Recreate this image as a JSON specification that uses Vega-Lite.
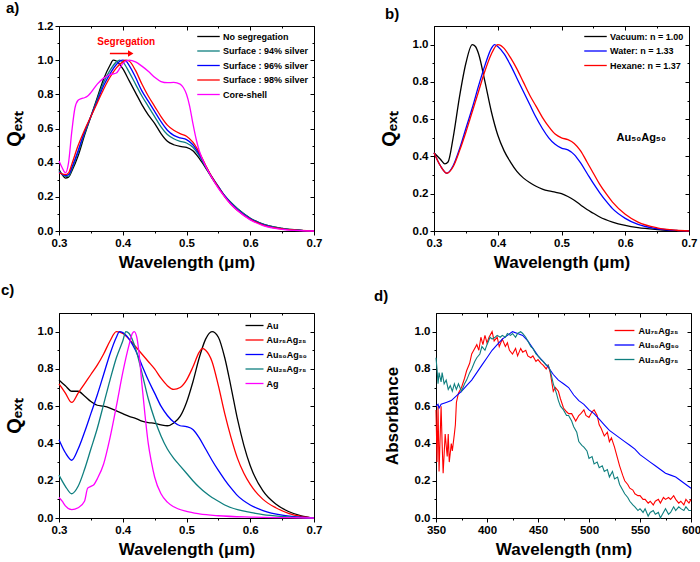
{
"$schema":"https://vega.github.io/schema/vega-lite/v6.json",
"background":"white",
"padding":{"left":0,"top":0,"right":5,"bottom":0},
"config":{
 "view":{"stroke":"#000","strokeWidth":1},
 "font":"Liberation Sans",
 "axis":{"grid":false,"domainColor":"#000","tickColor":"#000","tickSize":4,"labelFont":"Liberation Sans","labelFontWeight":"bold","labelFontSize":11.5,"labelColor":"#000","titleFont":"Liberation Sans","titleFontWeight":"bold","titleColor":"#000","titleFontSize":17,"labelPadding":2,"labelOverlap":false,"labelFlush":false},
 "axisY":{"titleFontSize":20,"titlePadding":13},
 "axisX":{"titlePadding":6},
 "legend":{"orient":"top-right","offset":4,"padding":2,"symbolStrokeWidth":1.5,"labelFont":"Liberation Sans","labelFontWeight":"bold","labelFontSize":9,"labelColor":"#000","rowPadding":3.5,"labelLimit":250},
 "title":{"font":"Liberation Sans","fontWeight":"bold","fontSize":15,"anchor":"start","frame":"bounds","color":"#000","offset":4},
 "line":{"strokeWidth":1.3}
},
"resolve":{"scale":{"color":"independent"},"legend":{"color":"independent"}},
"spacing":11,
"vconcat":[
{"hconcat":[
{"width":255,"height":205,"title":{"text":"a)","dx":2},
 "data":{"values":[
{"s":"No segregation","x":0.30,"y":0.36},{"s":"No segregation","x":0.305,"y":0.33},{"s":"No segregation","x":0.31,"y":0.31},{"s":"No segregation","x":0.315,"y":0.315},{"s":"No segregation","x":0.32,"y":0.35},{"s":"No segregation","x":0.33,"y":0.44},{"s":"No segregation","x":0.34,"y":0.56},{"s":"No segregation","x":0.35,"y":0.67},{"s":"No segregation","x":0.36,"y":0.78},{"s":"No segregation","x":0.37,"y":0.89},{"s":"No segregation","x":0.38,"y":0.97},{"s":"No segregation","x":0.385,"y":1.0},{"s":"No segregation","x":0.39,"y":0.995},{"s":"No segregation","x":0.40,"y":0.95},{"s":"No segregation","x":0.41,"y":0.88},{"s":"No segregation","x":0.42,"y":0.81},{"s":"No segregation","x":0.43,"y":0.74},{"s":"No segregation","x":0.44,"y":0.68},{"s":"No segregation","x":0.45,"y":0.63},{"s":"No segregation","x":0.46,"y":0.57},{"s":"No segregation","x":0.47,"y":0.525},{"s":"No segregation","x":0.48,"y":0.505},{"s":"No segregation","x":0.49,"y":0.495},{"s":"No segregation","x":0.50,"y":0.49},{"s":"No segregation","x":0.51,"y":0.47},{"s":"No segregation","x":0.52,"y":0.425},{"s":"No segregation","x":0.53,"y":0.37},{"s":"No segregation","x":0.54,"y":0.31},{"s":"No segregation","x":0.55,"y":0.255},{"s":"No segregation","x":0.56,"y":0.205},{"s":"No segregation","x":0.57,"y":0.165},{"s":"No segregation","x":0.58,"y":0.13},{"s":"No segregation","x":0.60,"y":0.075},{"s":"No segregation","x":0.62,"y":0.04},{"s":"No segregation","x":0.65,"y":0.015},{"s":"No segregation","x":0.68,"y":0.004},{"s":"No segregation","x":0.70,"y":0.0},
{"s":"Surface : 94% silver","x":0.30,"y":0.35},{"s":"Surface : 94% silver","x":0.31,"y":0.32},{"s":"Surface : 94% silver","x":0.315,"y":0.32},{"s":"Surface : 94% silver","x":0.32,"y":0.36},{"s":"Surface : 94% silver","x":0.33,"y":0.46},{"s":"Surface : 94% silver","x":0.34,"y":0.57},{"s":"Surface : 94% silver","x":0.35,"y":0.67},{"s":"Surface : 94% silver","x":0.36,"y":0.77},{"s":"Surface : 94% silver","x":0.37,"y":0.87},{"s":"Surface : 94% silver","x":0.38,"y":0.94},{"s":"Surface : 94% silver","x":0.39,"y":0.99},{"s":"Surface : 94% silver","x":0.395,"y":1.0},{"s":"Surface : 94% silver","x":0.40,"y":0.99},{"s":"Surface : 94% silver","x":0.41,"y":0.93},{"s":"Surface : 94% silver","x":0.42,"y":0.86},{"s":"Surface : 94% silver","x":0.43,"y":0.79},{"s":"Surface : 94% silver","x":0.44,"y":0.73},{"s":"Surface : 94% silver","x":0.45,"y":0.67},{"s":"Surface : 94% silver","x":0.46,"y":0.61},{"s":"Surface : 94% silver","x":0.47,"y":0.565},{"s":"Surface : 94% silver","x":0.48,"y":0.54},{"s":"Surface : 94% silver","x":0.49,"y":0.525},{"s":"Surface : 94% silver","x":0.50,"y":0.515},{"s":"Surface : 94% silver","x":0.51,"y":0.49},{"s":"Surface : 94% silver","x":0.52,"y":0.44},{"s":"Surface : 94% silver","x":0.53,"y":0.375},{"s":"Surface : 94% silver","x":0.54,"y":0.315},{"s":"Surface : 94% silver","x":0.55,"y":0.26},{"s":"Surface : 94% silver","x":0.56,"y":0.205},{"s":"Surface : 94% silver","x":0.57,"y":0.165},{"s":"Surface : 94% silver","x":0.58,"y":0.13},{"s":"Surface : 94% silver","x":0.60,"y":0.075},{"s":"Surface : 94% silver","x":0.62,"y":0.04},{"s":"Surface : 94% silver","x":0.65,"y":0.015},{"s":"Surface : 94% silver","x":0.68,"y":0.004},{"s":"Surface : 94% silver","x":0.70,"y":0.0},
{"s":"Surface : 96% silver","x":0.30,"y":0.345},{"s":"Surface : 96% silver","x":0.31,"y":0.325},{"s":"Surface : 96% silver","x":0.315,"y":0.33},{"s":"Surface : 96% silver","x":0.32,"y":0.37},{"s":"Surface : 96% silver","x":0.33,"y":0.47},{"s":"Surface : 96% silver","x":0.34,"y":0.58},{"s":"Surface : 96% silver","x":0.35,"y":0.67},{"s":"Surface : 96% silver","x":0.36,"y":0.76},{"s":"Surface : 96% silver","x":0.37,"y":0.85},{"s":"Surface : 96% silver","x":0.38,"y":0.92},{"s":"Surface : 96% silver","x":0.39,"y":0.975},{"s":"Surface : 96% silver","x":0.40,"y":1.0},{"s":"Surface : 96% silver","x":0.405,"y":0.995},{"s":"Surface : 96% silver","x":0.41,"y":0.97},{"s":"Surface : 96% silver","x":0.42,"y":0.9},{"s":"Surface : 96% silver","x":0.43,"y":0.82},{"s":"Surface : 96% silver","x":0.44,"y":0.76},{"s":"Surface : 96% silver","x":0.45,"y":0.70},{"s":"Surface : 96% silver","x":0.46,"y":0.64},{"s":"Surface : 96% silver","x":0.47,"y":0.59},{"s":"Surface : 96% silver","x":0.48,"y":0.56},{"s":"Surface : 96% silver","x":0.49,"y":0.545},{"s":"Surface : 96% silver","x":0.50,"y":0.535},{"s":"Surface : 96% silver","x":0.51,"y":0.505},{"s":"Surface : 96% silver","x":0.52,"y":0.45},{"s":"Surface : 96% silver","x":0.53,"y":0.38},{"s":"Surface : 96% silver","x":0.54,"y":0.315},{"s":"Surface : 96% silver","x":0.55,"y":0.26},{"s":"Surface : 96% silver","x":0.56,"y":0.205},{"s":"Surface : 96% silver","x":0.57,"y":0.16},{"s":"Surface : 96% silver","x":0.58,"y":0.125},{"s":"Surface : 96% silver","x":0.60,"y":0.072},{"s":"Surface : 96% silver","x":0.62,"y":0.038},{"s":"Surface : 96% silver","x":0.65,"y":0.013},{"s":"Surface : 96% silver","x":0.68,"y":0.003},{"s":"Surface : 96% silver","x":0.70,"y":0.0},
{"s":"Surface : 98% silver","x":0.30,"y":0.34},{"s":"Surface : 98% silver","x":0.31,"y":0.33},{"s":"Surface : 98% silver","x":0.315,"y":0.34},{"s":"Surface : 98% silver","x":0.32,"y":0.39},{"s":"Surface : 98% silver","x":0.33,"y":0.50},{"s":"Surface : 98% silver","x":0.34,"y":0.59},{"s":"Surface : 98% silver","x":0.35,"y":0.67},{"s":"Surface : 98% silver","x":0.36,"y":0.75},{"s":"Surface : 98% silver","x":0.37,"y":0.83},{"s":"Surface : 98% silver","x":0.38,"y":0.9},{"s":"Surface : 98% silver","x":0.39,"y":0.955},{"s":"Surface : 98% silver","x":0.40,"y":0.99},{"s":"Surface : 98% silver","x":0.405,"y":1.0},{"s":"Surface : 98% silver","x":0.41,"y":0.995},{"s":"Surface : 98% silver","x":0.42,"y":0.94},{"s":"Surface : 98% silver","x":0.43,"y":0.86},{"s":"Surface : 98% silver","x":0.44,"y":0.79},{"s":"Surface : 98% silver","x":0.45,"y":0.73},{"s":"Surface : 98% silver","x":0.46,"y":0.67},{"s":"Surface : 98% silver","x":0.47,"y":0.62},{"s":"Surface : 98% silver","x":0.48,"y":0.59},{"s":"Surface : 98% silver","x":0.49,"y":0.57},{"s":"Surface : 98% silver","x":0.50,"y":0.555},{"s":"Surface : 98% silver","x":0.51,"y":0.52},{"s":"Surface : 98% silver","x":0.52,"y":0.46},{"s":"Surface : 98% silver","x":0.53,"y":0.385},{"s":"Surface : 98% silver","x":0.54,"y":0.315},{"s":"Surface : 98% silver","x":0.55,"y":0.255},{"s":"Surface : 98% silver","x":0.56,"y":0.2},{"s":"Surface : 98% silver","x":0.57,"y":0.155},{"s":"Surface : 98% silver","x":0.58,"y":0.12},{"s":"Surface : 98% silver","x":0.60,"y":0.068},{"s":"Surface : 98% silver","x":0.62,"y":0.035},{"s":"Surface : 98% silver","x":0.65,"y":0.012},{"s":"Surface : 98% silver","x":0.68,"y":0.003},{"s":"Surface : 98% silver","x":0.70,"y":0.0},
{"s":"Core-shell","x":0.30,"y":0.41},{"s":"Core-shell","x":0.305,"y":0.37},{"s":"Core-shell","x":0.31,"y":0.34},{"s":"Core-shell","x":0.315,"y":0.4},{"s":"Core-shell","x":0.32,"y":0.58},{"s":"Core-shell","x":0.325,"y":0.72},{"s":"Core-shell","x":0.33,"y":0.765},{"s":"Core-shell","x":0.335,"y":0.775},{"s":"Core-shell","x":0.34,"y":0.78},{"s":"Core-shell","x":0.345,"y":0.79},{"s":"Core-shell","x":0.35,"y":0.81},{"s":"Core-shell","x":0.36,"y":0.86},{"s":"Core-shell","x":0.37,"y":0.895},{"s":"Core-shell","x":0.38,"y":0.915},{"s":"Core-shell","x":0.39,"y":0.925},{"s":"Core-shell","x":0.395,"y":0.95},{"s":"Core-shell","x":0.40,"y":0.98},{"s":"Core-shell","x":0.41,"y":1.0},{"s":"Core-shell","x":0.42,"y":0.99},{"s":"Core-shell","x":0.43,"y":0.965},{"s":"Core-shell","x":0.44,"y":0.935},{"s":"Core-shell","x":0.45,"y":0.9},{"s":"Core-shell","x":0.46,"y":0.875},{"s":"Core-shell","x":0.47,"y":0.868},{"s":"Core-shell","x":0.48,"y":0.87},{"s":"Core-shell","x":0.49,"y":0.86},{"s":"Core-shell","x":0.495,"y":0.84},{"s":"Core-shell","x":0.50,"y":0.8},{"s":"Core-shell","x":0.505,"y":0.73},{"s":"Core-shell","x":0.51,"y":0.63},{"s":"Core-shell","x":0.515,"y":0.54},{"s":"Core-shell","x":0.52,"y":0.47},{"s":"Core-shell","x":0.53,"y":0.38},{"s":"Core-shell","x":0.54,"y":0.31},{"s":"Core-shell","x":0.55,"y":0.25},{"s":"Core-shell","x":0.56,"y":0.2},{"s":"Core-shell","x":0.57,"y":0.155},{"s":"Core-shell","x":0.58,"y":0.12},{"s":"Core-shell","x":0.60,"y":0.065},{"s":"Core-shell","x":0.62,"y":0.032},{"s":"Core-shell","x":0.65,"y":0.01},{"s":"Core-shell","x":0.68,"y":0.002},{"s":"Core-shell","x":0.70,"y":0.0}
 ]},
 "layer":[
  {"mark":{"type":"line","interpolate":"monotone"},
   "encoding":{
    "x":{"field":"x","type":"quantitative","scale":{"domain":[0.3,0.7],"nice":false,"zero":false},"axis":{"orient":"bottom","values":[0.3,0.4,0.5,0.6,0.7],"format":".1f","title":"Wavelength (μm)"}},
    "y":{"field":"y","type":"quantitative","scale":{"domain":[0,1.2],"nice":false},"axis":{"orient":"left","values":[0,0.2,0.4,0.6,0.8,1.0,1.2],"format":".1f","title":"Qₑₓₜ"}},
    "color":{"field":"s","type":"nominal","scale":{"domain":["No segregation","Surface : 94% silver","Surface : 96% silver","Surface : 98% silver","Core-shell"],"range":["#000000","#0f7f7f","#0000ff","#ff0000","#ff00ff"]},"legend":{"title":null,"symbolType":"M-2.5,0H2.5","symbolSize":81,"labelOffset":9,"offset":3}}
   }},
  {"data":{"values":[{"x":0.3,"y":0}]},"mark":{"type":"point","opacity":0},"encoding":{"x":{"field":"x","type":"quantitative","axis":{"orient":"top","values":[0.3,0.4,0.5,0.6,0.7],"tickSize":-4,"labels":false,"domain":false,"title":null}},"y":{"field":"y","type":"quantitative","axis":{"orient":"right","values":[0,0.2,0.4,0.6,0.8,1.0,1.2],"tickSize":-4,"labels":false,"domain":false,"title":null}}}},
  {"data":{"values":[{"x":0.3,"y":0}]},"mark":{"type":"point","opacity":0},"encoding":{"x":{"field":"x","type":"quantitative","axis":{"orient":"bottom","values":[0.35,0.45,0.55,0.65],"tickSize":2,"labels":false,"domain":false,"title":null}},"y":{"field":"y","type":"quantitative","axis":{"orient":"left","values":[0.1,0.3,0.5,0.7,0.9,1.1],"tickSize":2,"labels":false,"domain":false,"title":null}}}},
  {"data":{"values":[{"x":0.3,"y":0}]},"mark":{"type":"point","opacity":0},"encoding":{"x":{"field":"x","type":"quantitative","axis":{"orient":"top","values":[0.35,0.45,0.55,0.65],"tickSize":-2,"labels":false,"domain":false,"title":null}},"y":{"field":"y","type":"quantitative","axis":{"orient":"right","values":[0.1,0.3,0.5,0.7,0.9,1.1],"tickSize":-2,"labels":false,"domain":false,"title":null}}}},
  {"data":{"values":[{"x":0.4055,"y":1.106,"t":"Segregation"}]},"mark":{"type":"text","color":"#ff0000","fontWeight":"bold","fontSize":10,"font":"Liberation Sans"},"encoding":{"x":{"field":"x","type":"quantitative","axis":null},"y":{"field":"y","type":"quantitative","axis":null},"text":{"field":"t"}}},
  {"data":{"values":[{"x":0.3798,"x2":0.41,"y":1.039}]},"mark":{"type":"rule","color":"#ff0000","strokeWidth":1.5},"encoding":{"x":{"field":"x","type":"quantitative","axis":null},"x2":{"field":"x2"},"y":{"field":"y","type":"quantitative","axis":null}}},
  {"data":{"values":[{"x":0.4125,"y":1.039}]},"mark":{"type":"point","shape":"triangle-right","filled":true,"color":"#ff0000","size":40,"opacity":1},"encoding":{"x":{"field":"x","type":"quantitative","axis":null},"y":{"field":"y","type":"quantitative","axis":null}}}
 ],
 "resolve":{"axis":{"x":"independent","y":"independent"}}},
{"width":255,"height":205,"title":{"text":"b)","dx":6},
 "data":{"values":[
{"s":"Vacuum: n = 1.00","x":0.30,"y":0.42},{"s":"Vacuum: n = 1.00","x":0.31,"y":0.385},{"s":"Vacuum: n = 1.00","x":0.317,"y":0.36},{"s":"Vacuum: n = 1.00","x":0.322,"y":0.37},{"s":"Vacuum: n = 1.00","x":0.33,"y":0.5},{"s":"Vacuum: n = 1.00","x":0.34,"y":0.72},{"s":"Vacuum: n = 1.00","x":0.35,"y":0.9},{"s":"Vacuum: n = 1.00","x":0.36,"y":1.0},{"s":"Vacuum: n = 1.00","x":0.365,"y":0.99},{"s":"Vacuum: n = 1.00","x":0.37,"y":0.95},{"s":"Vacuum: n = 1.00","x":0.38,"y":0.8},{"s":"Vacuum: n = 1.00","x":0.39,"y":0.64},{"s":"Vacuum: n = 1.00","x":0.40,"y":0.515},{"s":"Vacuum: n = 1.00","x":0.41,"y":0.43},{"s":"Vacuum: n = 1.00","x":0.42,"y":0.37},{"s":"Vacuum: n = 1.00","x":0.43,"y":0.32},{"s":"Vacuum: n = 1.00","x":0.44,"y":0.285},{"s":"Vacuum: n = 1.00","x":0.45,"y":0.26},{"s":"Vacuum: n = 1.00","x":0.46,"y":0.24},{"s":"Vacuum: n = 1.00","x":0.47,"y":0.225},{"s":"Vacuum: n = 1.00","x":0.48,"y":0.215},{"s":"Vacuum: n = 1.00","x":0.49,"y":0.208},{"s":"Vacuum: n = 1.00","x":0.50,"y":0.2},{"s":"Vacuum: n = 1.00","x":0.51,"y":0.185},{"s":"Vacuum: n = 1.00","x":0.52,"y":0.165},{"s":"Vacuum: n = 1.00","x":0.53,"y":0.14},{"s":"Vacuum: n = 1.00","x":0.54,"y":0.115},{"s":"Vacuum: n = 1.00","x":0.55,"y":0.095},{"s":"Vacuum: n = 1.00","x":0.56,"y":0.075},{"s":"Vacuum: n = 1.00","x":0.58,"y":0.048},{"s":"Vacuum: n = 1.00","x":0.60,"y":0.03},{"s":"Vacuum: n = 1.00","x":0.62,"y":0.018},{"s":"Vacuum: n = 1.00","x":0.65,"y":0.008},{"s":"Vacuum: n = 1.00","x":0.68,"y":0.002},{"s":"Vacuum: n = 1.00","x":0.70,"y":0.0},
{"s":"Water: n = 1.33","x":0.30,"y":0.42},{"s":"Water: n = 1.33","x":0.31,"y":0.35},{"s":"Water: n = 1.33","x":0.32,"y":0.31},{"s":"Water: n = 1.33","x":0.33,"y":0.35},{"s":"Water: n = 1.33","x":0.34,"y":0.44},{"s":"Water: n = 1.33","x":0.35,"y":0.55},{"s":"Water: n = 1.33","x":0.36,"y":0.66},{"s":"Water: n = 1.33","x":0.37,"y":0.78},{"s":"Water: n = 1.33","x":0.38,"y":0.89},{"s":"Water: n = 1.33","x":0.39,"y":0.98},{"s":"Water: n = 1.33","x":0.395,"y":1.0},{"s":"Water: n = 1.33","x":0.40,"y":0.99},{"s":"Water: n = 1.33","x":0.41,"y":0.95},{"s":"Water: n = 1.33","x":0.42,"y":0.89},{"s":"Water: n = 1.33","x":0.43,"y":0.82},{"s":"Water: n = 1.33","x":0.44,"y":0.75},{"s":"Water: n = 1.33","x":0.45,"y":0.68},{"s":"Water: n = 1.33","x":0.46,"y":0.61},{"s":"Water: n = 1.33","x":0.47,"y":0.55},{"s":"Water: n = 1.33","x":0.48,"y":0.5},{"s":"Water: n = 1.33","x":0.49,"y":0.465},{"s":"Water: n = 1.33","x":0.50,"y":0.445},{"s":"Water: n = 1.33","x":0.51,"y":0.435},{"s":"Water: n = 1.33","x":0.52,"y":0.41},{"s":"Water: n = 1.33","x":0.53,"y":0.365},{"s":"Water: n = 1.33","x":0.54,"y":0.31},{"s":"Water: n = 1.33","x":0.55,"y":0.255},{"s":"Water: n = 1.33","x":0.56,"y":0.205},{"s":"Water: n = 1.33","x":0.57,"y":0.16},{"s":"Water: n = 1.33","x":0.58,"y":0.12},{"s":"Water: n = 1.33","x":0.60,"y":0.068},{"s":"Water: n = 1.33","x":0.62,"y":0.035},{"s":"Water: n = 1.33","x":0.65,"y":0.012},{"s":"Water: n = 1.33","x":0.68,"y":0.003},{"s":"Water: n = 1.33","x":0.70,"y":0.0},
{"s":"Hexane: n = 1.37","x":0.30,"y":0.42},{"s":"Hexane: n = 1.37","x":0.31,"y":0.35},{"s":"Hexane: n = 1.37","x":0.32,"y":0.31},{"s":"Hexane: n = 1.37","x":0.33,"y":0.345},{"s":"Hexane: n = 1.37","x":0.34,"y":0.43},{"s":"Hexane: n = 1.37","x":0.35,"y":0.53},{"s":"Hexane: n = 1.37","x":0.36,"y":0.64},{"s":"Hexane: n = 1.37","x":0.37,"y":0.75},{"s":"Hexane: n = 1.37","x":0.38,"y":0.86},{"s":"Hexane: n = 1.37","x":0.39,"y":0.95},{"s":"Hexane: n = 1.37","x":0.40,"y":1.0},{"s":"Hexane: n = 1.37","x":0.405,"y":0.995},{"s":"Hexane: n = 1.37","x":0.41,"y":0.98},{"s":"Hexane: n = 1.37","x":0.42,"y":0.93},{"s":"Hexane: n = 1.37","x":0.43,"y":0.87},{"s":"Hexane: n = 1.37","x":0.44,"y":0.8},{"s":"Hexane: n = 1.37","x":0.45,"y":0.73},{"s":"Hexane: n = 1.37","x":0.46,"y":0.67},{"s":"Hexane: n = 1.37","x":0.47,"y":0.61},{"s":"Hexane: n = 1.37","x":0.48,"y":0.56},{"s":"Hexane: n = 1.37","x":0.49,"y":0.52},{"s":"Hexane: n = 1.37","x":0.50,"y":0.5},{"s":"Hexane: n = 1.37","x":0.51,"y":0.49},{"s":"Hexane: n = 1.37","x":0.52,"y":0.47},{"s":"Hexane: n = 1.37","x":0.53,"y":0.43},{"s":"Hexane: n = 1.37","x":0.54,"y":0.37},{"s":"Hexane: n = 1.37","x":0.55,"y":0.31},{"s":"Hexane: n = 1.37","x":0.56,"y":0.25},{"s":"Hexane: n = 1.37","x":0.57,"y":0.2},{"s":"Hexane: n = 1.37","x":0.58,"y":0.155},{"s":"Hexane: n = 1.37","x":0.60,"y":0.09},{"s":"Hexane: n = 1.37","x":0.62,"y":0.048},{"s":"Hexane: n = 1.37","x":0.65,"y":0.017},{"s":"Hexane: n = 1.37","x":0.68,"y":0.004},{"s":"Hexane: n = 1.37","x":0.70,"y":0.0}
 ]},
 "layer":[
  {"mark":{"type":"line","interpolate":"monotone"},
   "encoding":{
    "x":{"field":"x","type":"quantitative","scale":{"domain":[0.3,0.7],"nice":false,"zero":false},"axis":{"orient":"bottom","values":[0.3,0.4,0.5,0.6,0.7],"format":".1f","title":"Wavelength (μm)"}},
    "y":{"field":"y","type":"quantitative","scale":{"domain":[0,1.1],"nice":false},"axis":{"orient":"left","values":[0,0.2,0.4,0.6,0.8,1.0],"format":".1f","title":"Qₑₓₜ"}},
    "color":{"field":"s","type":"nominal","scale":{"domain":["Vacuum: n = 1.00","Water: n = 1.33","Hexane: n = 1.37"],"range":["#000000","#0000ff","#ff0000"]},"legend":{"title":null,"symbolType":"M-2.5,0H2.5","symbolSize":81,"labelOffset":9,"offset":3}}
   }},
  {"data":{"values":[{"x":0.3,"y":0}]},"mark":{"type":"point","opacity":0},"encoding":{"x":{"field":"x","type":"quantitative","axis":{"orient":"top","values":[0.3,0.4,0.5,0.6,0.7],"tickSize":-4,"labels":false,"domain":false,"title":null}},"y":{"field":"y","type":"quantitative","axis":{"orient":"right","values":[0,0.2,0.4,0.6,0.8,1.0],"tickSize":-4,"labels":false,"domain":false,"title":null}}}},
  {"data":{"values":[{"x":0.3,"y":0}]},"mark":{"type":"point","opacity":0},"encoding":{"x":{"field":"x","type":"quantitative","axis":{"orient":"bottom","values":[0.35,0.45,0.55,0.65],"tickSize":2,"labels":false,"domain":false,"title":null}},"y":{"field":"y","type":"quantitative","axis":{"orient":"left","values":[0.1,0.3,0.5,0.7,0.9],"tickSize":2,"labels":false,"domain":false,"title":null}}}},
  {"data":{"values":[{"x":0.3,"y":0}]},"mark":{"type":"point","opacity":0},"encoding":{"x":{"field":"x","type":"quantitative","axis":{"orient":"top","values":[0.35,0.45,0.55,0.65],"tickSize":-2,"labels":false,"domain":false,"title":null}},"y":{"field":"y","type":"quantitative","axis":{"orient":"right","values":[0.1,0.3,0.5,0.7,0.9],"tickSize":-2,"labels":false,"domain":false,"title":null}}}},
  {"data":{"values":[{"x":0.625,"y":0.5,"t":"Au₅₀Ag₅₀"}]},"mark":{"type":"text","color":"#000","fontWeight":"bold","fontSize":11,"font":"Liberation Sans"},"encoding":{"x":{"field":"x","type":"quantitative","axis":null},"y":{"field":"y","type":"quantitative","axis":null},"text":{"field":"t"}}}
 ],
 "resolve":{"axis":{"x":"independent","y":"independent"}}}
],"spacing":55,"resolve":{"scale":{"color":"independent"},"legend":{"color":"independent"}}},
{"hconcat":[
{"width":255,"height":205,"title":{"text":"c)","dx":-3,"offset":15},
 "data":{"values":[
{"s":"Au","x":0.30,"y":0.74},{"s":"Au","x":0.31,"y":0.71},{"s":"Au","x":0.32,"y":0.68},{"s":"Au","x":0.33,"y":0.68},{"s":"Au","x":0.34,"y":0.655},{"s":"Au","x":0.35,"y":0.625},{"s":"Au","x":0.36,"y":0.605},{"s":"Au","x":0.37,"y":0.6},{"s":"Au","x":0.38,"y":0.59},{"s":"Au","x":0.39,"y":0.575},{"s":"Au","x":0.40,"y":0.56},{"s":"Au","x":0.41,"y":0.545},{"s":"Au","x":0.42,"y":0.535},{"s":"Au","x":0.43,"y":0.52},{"s":"Au","x":0.44,"y":0.512},{"s":"Au","x":0.45,"y":0.508},{"s":"Au","x":0.46,"y":0.5},{"s":"Au","x":0.47,"y":0.495},{"s":"Au","x":0.48,"y":0.51},{"s":"Au","x":0.49,"y":0.545},{"s":"Au","x":0.50,"y":0.62},{"s":"Au","x":0.51,"y":0.73},{"s":"Au","x":0.52,"y":0.86},{"s":"Au","x":0.53,"y":0.96},{"s":"Au","x":0.54,"y":1.0},{"s":"Au","x":0.55,"y":0.97},{"s":"Au","x":0.56,"y":0.86},{"s":"Au","x":0.57,"y":0.7},{"s":"Au","x":0.58,"y":0.53},{"s":"Au","x":0.59,"y":0.39},{"s":"Au","x":0.60,"y":0.28},{"s":"Au","x":0.62,"y":0.145},{"s":"Au","x":0.64,"y":0.075},{"s":"Au","x":0.66,"y":0.035},{"s":"Au","x":0.68,"y":0.012},{"s":"Au","x":0.70,"y":0.0},
{"s":"Au₇₅Ag₂₅","x":0.30,"y":0.72},{"s":"Au₇₅Ag₂₅","x":0.31,"y":0.67},{"s":"Au₇₅Ag₂₅","x":0.32,"y":0.62},{"s":"Au₇₅Ag₂₅","x":0.33,"y":0.67},{"s":"Au₇₅Ag₂₅","x":0.34,"y":0.72},{"s":"Au₇₅Ag₂₅","x":0.35,"y":0.77},{"s":"Au₇₅Ag₂₅","x":0.36,"y":0.82},{"s":"Au₇₅Ag₂₅","x":0.37,"y":0.88},{"s":"Au₇₅Ag₂₅","x":0.38,"y":0.95},{"s":"Au₇₅Ag₂₅","x":0.39,"y":1.0},{"s":"Au₇₅Ag₂₅","x":0.40,"y":0.99},{"s":"Au₇₅Ag₂₅","x":0.41,"y":0.96},{"s":"Au₇₅Ag₂₅","x":0.42,"y":0.92},{"s":"Au₇₅Ag₂₅","x":0.43,"y":0.88},{"s":"Au₇₅Ag₂₅","x":0.44,"y":0.84},{"s":"Au₇₅Ag₂₅","x":0.45,"y":0.8},{"s":"Au₇₅Ag₂₅","x":0.46,"y":0.75},{"s":"Au₇₅Ag₂₅","x":0.47,"y":0.71},{"s":"Au₇₅Ag₂₅","x":0.48,"y":0.69},{"s":"Au₇₅Ag₂₅","x":0.49,"y":0.7},{"s":"Au₇₅Ag₂₅","x":0.50,"y":0.74},{"s":"Au₇₅Ag₂₅","x":0.51,"y":0.81},{"s":"Au₇₅Ag₂₅","x":0.52,"y":0.89},{"s":"Au₇₅Ag₂₅","x":0.525,"y":0.91},{"s":"Au₇₅Ag₂₅","x":0.53,"y":0.9},{"s":"Au₇₅Ag₂₅","x":0.54,"y":0.84},{"s":"Au₇₅Ag₂₅","x":0.55,"y":0.71},{"s":"Au₇₅Ag₂₅","x":0.56,"y":0.56},{"s":"Au₇₅Ag₂₅","x":0.57,"y":0.43},{"s":"Au₇₅Ag₂₅","x":0.58,"y":0.32},{"s":"Au₇₅Ag₂₅","x":0.59,"y":0.24},{"s":"Au₇₅Ag₂₅","x":0.60,"y":0.18},{"s":"Au₇₅Ag₂₅","x":0.62,"y":0.1},{"s":"Au₇₅Ag₂₅","x":0.64,"y":0.055},{"s":"Au₇₅Ag₂₅","x":0.66,"y":0.025},{"s":"Au₇₅Ag₂₅","x":0.68,"y":0.008},{"s":"Au₇₅Ag₂₅","x":0.70,"y":0.0},
{"s":"Au₅₀Ag₅₀","x":0.30,"y":0.42},{"s":"Au₅₀Ag₅₀","x":0.31,"y":0.35},{"s":"Au₅₀Ag₅₀","x":0.32,"y":0.31},{"s":"Au₅₀Ag₅₀","x":0.33,"y":0.37},{"s":"Au₅₀Ag₅₀","x":0.34,"y":0.46},{"s":"Au₅₀Ag₅₀","x":0.35,"y":0.56},{"s":"Au₅₀Ag₅₀","x":0.36,"y":0.66},{"s":"Au₅₀Ag₅₀","x":0.37,"y":0.77},{"s":"Au₅₀Ag₅₀","x":0.38,"y":0.88},{"s":"Au₅₀Ag₅₀","x":0.39,"y":0.97},{"s":"Au₅₀Ag₅₀","x":0.395,"y":1.0},{"s":"Au₅₀Ag₅₀","x":0.40,"y":0.995},{"s":"Au₅₀Ag₅₀","x":0.41,"y":0.96},{"s":"Au₅₀Ag₅₀","x":0.42,"y":0.9},{"s":"Au₅₀Ag₅₀","x":0.43,"y":0.82},{"s":"Au₅₀Ag₅₀","x":0.44,"y":0.74},{"s":"Au₅₀Ag₅₀","x":0.45,"y":0.67},{"s":"Au₅₀Ag₅₀","x":0.46,"y":0.6},{"s":"Au₅₀Ag₅₀","x":0.47,"y":0.55},{"s":"Au₅₀Ag₅₀","x":0.48,"y":0.515},{"s":"Au₅₀Ag₅₀","x":0.49,"y":0.495},{"s":"Au₅₀Ag₅₀","x":0.50,"y":0.49},{"s":"Au₅₀Ag₅₀","x":0.51,"y":0.475},{"s":"Au₅₀Ag₅₀","x":0.52,"y":0.43},{"s":"Au₅₀Ag₅₀","x":0.53,"y":0.37},{"s":"Au₅₀Ag₅₀","x":0.54,"y":0.31},{"s":"Au₅₀Ag₅₀","x":0.55,"y":0.255},{"s":"Au₅₀Ag₅₀","x":0.56,"y":0.205},{"s":"Au₅₀Ag₅₀","x":0.57,"y":0.16},{"s":"Au₅₀Ag₅₀","x":0.58,"y":0.12},{"s":"Au₅₀Ag₅₀","x":0.60,"y":0.07},{"s":"Au₅₀Ag₅₀","x":0.62,"y":0.04},{"s":"Au₅₀Ag₅₀","x":0.65,"y":0.015},{"s":"Au₅₀Ag₅₀","x":0.68,"y":0.004},{"s":"Au₅₀Ag₅₀","x":0.70,"y":0.0},
{"s":"Au₂₅Ag₇₅","x":0.30,"y":0.23},{"s":"Au₂₅Ag₇₅","x":0.31,"y":0.17},{"s":"Au₂₅Ag₇₅","x":0.32,"y":0.13},{"s":"Au₂₅Ag₇₅","x":0.33,"y":0.17},{"s":"Au₂₅Ag₇₅","x":0.34,"y":0.26},{"s":"Au₂₅Ag₇₅","x":0.35,"y":0.37},{"s":"Au₂₅Ag₇₅","x":0.36,"y":0.48},{"s":"Au₂₅Ag₇₅","x":0.37,"y":0.61},{"s":"Au₂₅Ag₇₅","x":0.38,"y":0.74},{"s":"Au₂₅Ag₇₅","x":0.39,"y":0.86},{"s":"Au₂₅Ag₇₅","x":0.40,"y":0.95},{"s":"Au₂₅Ag₇₅","x":0.405,"y":1.0},{"s":"Au₂₅Ag₇₅","x":0.41,"y":0.99},{"s":"Au₂₅Ag₇₅","x":0.42,"y":0.91},{"s":"Au₂₅Ag₇₅","x":0.43,"y":0.78},{"s":"Au₂₅Ag₇₅","x":0.44,"y":0.64},{"s":"Au₂₅Ag₇₅","x":0.45,"y":0.53},{"s":"Au₂₅Ag₇₅","x":0.46,"y":0.44},{"s":"Au₂₅Ag₇₅","x":0.47,"y":0.37},{"s":"Au₂₅Ag₇₅","x":0.48,"y":0.32},{"s":"Au₂₅Ag₇₅","x":0.49,"y":0.28},{"s":"Au₂₅Ag₇₅","x":0.50,"y":0.24},{"s":"Au₂₅Ag₇₅","x":0.51,"y":0.2},{"s":"Au₂₅Ag₇₅","x":0.52,"y":0.165},{"s":"Au₂₅Ag₇₅","x":0.53,"y":0.135},{"s":"Au₂₅Ag₇₅","x":0.54,"y":0.11},{"s":"Au₂₅Ag₇₅","x":0.55,"y":0.09},{"s":"Au₂₅Ag₇₅","x":0.56,"y":0.07},{"s":"Au₂₅Ag₇₅","x":0.58,"y":0.045},{"s":"Au₂₅Ag₇₅","x":0.60,"y":0.03},{"s":"Au₂₅Ag₇₅","x":0.62,"y":0.018},{"s":"Au₂₅Ag₇₅","x":0.65,"y":0.008},{"s":"Au₂₅Ag₇₅","x":0.68,"y":0.002},{"s":"Au₂₅Ag₇₅","x":0.70,"y":0.0},
{"s":"Ag","x":0.30,"y":0.11},{"s":"Ag","x":0.305,"y":0.09},{"s":"Ag","x":0.31,"y":0.065},{"s":"Ag","x":0.32,"y":0.045},{"s":"Ag","x":0.33,"y":0.055},{"s":"Ag","x":0.34,"y":0.09},{"s":"Ag","x":0.345,"y":0.16},{"s":"Ag","x":0.35,"y":0.17},{"s":"Ag","x":0.355,"y":0.18},{"s":"Ag","x":0.36,"y":0.21},{"s":"Ag","x":0.37,"y":0.29},{"s":"Ag","x":0.38,"y":0.43},{"s":"Ag","x":0.39,"y":0.6},{"s":"Ag","x":0.40,"y":0.78},{"s":"Ag","x":0.41,"y":0.93},{"s":"Ag","x":0.415,"y":0.99},{"s":"Ag","x":0.418,"y":1.0},{"s":"Ag","x":0.422,"y":0.97},{"s":"Ag","x":0.425,"y":0.9},{"s":"Ag","x":0.43,"y":0.72},{"s":"Ag","x":0.435,"y":0.55},{"s":"Ag","x":0.44,"y":0.4},{"s":"Ag","x":0.445,"y":0.3},{"s":"Ag","x":0.45,"y":0.22},{"s":"Ag","x":0.46,"y":0.13},{"s":"Ag","x":0.47,"y":0.085},{"s":"Ag","x":0.48,"y":0.06},{"s":"Ag","x":0.50,"y":0.035},{"s":"Ag","x":0.52,"y":0.022},{"s":"Ag","x":0.55,"y":0.012},{"s":"Ag","x":0.60,"y":0.005},{"s":"Ag","x":0.65,"y":0.002},{"s":"Ag","x":0.70,"y":0.0}
 ]},
 "layer":[
  {"mark":{"type":"line","interpolate":"monotone"},
   "encoding":{
    "x":{"field":"x","type":"quantitative","scale":{"domain":[0.3,0.7],"nice":false,"zero":false},"axis":{"orient":"bottom","values":[0.3,0.4,0.5,0.6,0.7],"format":".1f","title":"Wavelength (μm)"}},
    "y":{"field":"y","type":"quantitative","scale":{"domain":[0,1.1],"nice":false},"axis":{"orient":"left","values":[0,0.2,0.4,0.6,0.8,1.0],"format":".1f","title":"Qₑₓₜ"}},
    "color":{"field":"s","type":"nominal","scale":{"domain":["Au","Au₇₅Ag₂₅","Au₅₀Ag₅₀","Au₂₅Ag₇₅","Ag"],"range":["#000000","#ff0000","#0000ff","#0f7f7f","#ff00ff"]},"legend":{"title":null,"symbolType":"M-2,0H2","symbolSize":81,"labelOffset":6.5,"offset":5}}
   }},
  {"data":{"values":[{"x":0.3,"y":0}]},"mark":{"type":"point","opacity":0},"encoding":{"x":{"field":"x","type":"quantitative","axis":{"orient":"top","values":[0.3,0.4,0.5,0.6,0.7],"tickSize":-4,"labels":false,"domain":false,"title":null}},"y":{"field":"y","type":"quantitative","axis":{"orient":"right","values":[0,0.2,0.4,0.6,0.8,1.0],"tickSize":-4,"labels":false,"domain":false,"title":null}}}},
  {"data":{"values":[{"x":0.3,"y":0}]},"mark":{"type":"point","opacity":0},"encoding":{"x":{"field":"x","type":"quantitative","axis":{"orient":"bottom","values":[0.35,0.45,0.55,0.65],"tickSize":2,"labels":false,"domain":false,"title":null}},"y":{"field":"y","type":"quantitative","axis":{"orient":"left","values":[0.1,0.3,0.5,0.7,0.9],"tickSize":2,"labels":false,"domain":false,"title":null}}}},
  {"data":{"values":[{"x":0.3,"y":0}]},"mark":{"type":"point","opacity":0},"encoding":{"x":{"field":"x","type":"quantitative","axis":{"orient":"top","values":[0.35,0.45,0.55,0.65],"tickSize":-2,"labels":false,"domain":false,"title":null}},"y":{"field":"y","type":"quantitative","axis":{"orient":"right","values":[0.1,0.3,0.5,0.7,0.9],"tickSize":-2,"labels":false,"domain":false,"title":null}}}}
 ],
 "resolve":{"axis":{"x":"independent","y":"independent"}}},
{"width":255,"height":205,"title":{"text":"d)","dx":-9,"offset":9},
 "data":{"values":[
{"s":"Au₇₅Ag₂₅","x":350,"y":0.58},{"s":"Au₇₅Ag₂₅","x":351,"y":0.3},{"s":"Au₇₅Ag₂₅","x":352,"y":0.6},{"s":"Au₇₅Ag₂₅","x":353,"y":0.25},{"s":"Au₇₅Ag₂₅","x":355,"y":0.6},{"s":"Au₇₅Ag₂₅","x":356,"y":0.4},{"s":"Au₇₅Ag₂₅","x":357,"y":0.24},{"s":"Au₇₅Ag₂₅","x":359,"y":0.45},{"s":"Au₇₅Ag₂₅","x":361,"y":0.33},{"s":"Au₇₅Ag₂₅","x":362,"y":0.45},{"s":"Au₇₅Ag₂₅","x":363,"y":0.3},{"s":"Au₇₅Ag₂₅","x":365,"y":0.4},{"s":"Au₇₅Ag₂₅","x":366,"y":0.36},{"s":"Au₇₅Ag₂₅","x":368,"y":0.45},{"s":"Au₇₅Ag₂₅","x":369,"y":0.5},{"s":"Au₇₅Ag₂₅","x":370,"y":0.62},{"s":"Au₇₅Ag₂₅","x":372,"y":0.67},{"s":"Au₇₅Ag₂₅","x":375,"y":0.7},{"s":"Au₇₅Ag₂₅","x":378,"y":0.75},{"s":"Au₇₅Ag₂₅","x":380,"y":0.79},{"s":"Au₇₅Ag₂₅","x":383,"y":0.83},{"s":"Au₇₅Ag₂₅","x":385,"y":0.88},{"s":"Au₇₅Ag₂₅","x":387,"y":0.9},{"s":"Au₇₅Ag₂₅","x":390,"y":0.93},{"s":"Au₇₅Ag₂₅","x":392,"y":0.9},{"s":"Au₇₅Ag₂₅","x":394,"y":0.97},{"s":"Au₇₅Ag₂₅","x":396,"y":0.93},{"s":"Au₇₅Ag₂₅","x":398,"y":0.98},{"s":"Au₇₅Ag₂₅","x":400,"y":0.94},{"s":"Au₇₅Ag₂₅","x":402,"y":0.97},{"s":"Au₇₅Ag₂₅","x":405,"y":1.0},{"s":"Au₇₅Ag₂₅","x":407,"y":0.95},{"s":"Au₇₅Ag₂₅","x":410,"y":0.97},{"s":"Au₇₅Ag₂₅","x":412,"y":0.92},{"s":"Au₇₅Ag₂₅","x":415,"y":0.96},{"s":"Au₇₅Ag₂₅","x":418,"y":0.92},{"s":"Au₇₅Ag₂₅","x":420,"y":0.94},{"s":"Au₇₅Ag₂₅","x":422,"y":0.9},{"s":"Au₇₅Ag₂₅","x":425,"y":0.88},{"s":"Au₇₅Ag₂₅","x":428,"y":0.91},{"s":"Au₇₅Ag₂₅","x":430,"y":0.87},{"s":"Au₇₅Ag₂₅","x":433,"y":0.91},{"s":"Au₇₅Ag₂₅","x":435,"y":0.89},{"s":"Au₇₅Ag₂₅","x":438,"y":0.9},{"s":"Au₇₅Ag₂₅","x":440,"y":0.87},{"s":"Au₇₅Ag₂₅","x":443,"y":0.86},{"s":"Au₇₅Ag₂₅","x":445,"y":0.87},{"s":"Au₇₅Ag₂₅","x":448,"y":0.84},{"s":"Au₇₅Ag₂₅","x":450,"y":0.85},{"s":"Au₇₅Ag₂₅","x":453,"y":0.83},{"s":"Au₇₅Ag₂₅","x":455,"y":0.82},{"s":"Au₇₅Ag₂₅","x":458,"y":0.8},{"s":"Au₇₅Ag₂₅","x":460,"y":0.82},{"s":"Au₇₅Ag₂₅","x":462,"y":0.78},{"s":"Au₇₅Ag₂₅","x":465,"y":0.68},{"s":"Au₇₅Ag₂₅","x":467,"y":0.7},{"s":"Au₇₅Ag₂₅","x":470,"y":0.68},{"s":"Au₇₅Ag₂₅","x":472,"y":0.64},{"s":"Au₇₅Ag₂₅","x":475,"y":0.59},{"s":"Au₇₅Ag₂₅","x":478,"y":0.57},{"s":"Au₇₅Ag₂₅","x":480,"y":0.56},{"s":"Au₇₅Ag₂₅","x":483,"y":0.56},{"s":"Au₇₅Ag₂₅","x":485,"y":0.54},{"s":"Au₇₅Ag₂₅","x":487,"y":0.52},{"s":"Au₇₅Ag₂₅","x":490,"y":0.55},{"s":"Au₇₅Ag₂₅","x":492,"y":0.56},{"s":"Au₇₅Ag₂₅","x":495,"y":0.58},{"s":"Au₇₅Ag₂₅","x":497,"y":0.55},{"s":"Au₇₅Ag₂₅","x":500,"y":0.54},{"s":"Au₇₅Ag₂₅","x":503,"y":0.57},{"s":"Au₇₅Ag₂₅","x":505,"y":0.58},{"s":"Au₇₅Ag₂₅","x":508,"y":0.55},{"s":"Au₇₅Ag₂₅","x":510,"y":0.5},{"s":"Au₇₅Ag₂₅","x":512,"y":0.48},{"s":"Au₇₅Ag₂₅","x":515,"y":0.44},{"s":"Au₇₅Ag₂₅","x":518,"y":0.46},{"s":"Au₇₅Ag₂₅","x":520,"y":0.41},{"s":"Au₇₅Ag₂₅","x":522,"y":0.43},{"s":"Au₇₅Ag₂₅","x":525,"y":0.38},{"s":"Au₇₅Ag₂₅","x":528,"y":0.32},{"s":"Au₇₅Ag₂₅","x":530,"y":0.28},{"s":"Au₇₅Ag₂₅","x":533,"y":0.23},{"s":"Au₇₅Ag₂₅","x":535,"y":0.2},{"s":"Au₇₅Ag₂₅","x":538,"y":0.18},{"s":"Au₇₅Ag₂₅","x":540,"y":0.16},{"s":"Au₇₅Ag₂₅","x":543,"y":0.15},{"s":"Au₇₅Ag₂₅","x":545,"y":0.13},{"s":"Au₇₅Ag₂₅","x":548,"y":0.12},{"s":"Au₇₅Ag₂₅","x":550,"y":0.12},{"s":"Au₇₅Ag₂₅","x":553,"y":0.1},{"s":"Au₇₅Ag₂₅","x":555,"y":0.1},{"s":"Au₇₅Ag₂₅","x":558,"y":0.08},{"s":"Au₇₅Ag₂₅","x":560,"y":0.09},{"s":"Au₇₅Ag₂₅","x":563,"y":0.07},{"s":"Au₇₅Ag₂₅","x":565,"y":0.09},{"s":"Au₇₅Ag₂₅","x":568,"y":0.1},{"s":"Au₇₅Ag₂₅","x":570,"y":0.08},{"s":"Au₇₅Ag₂₅","x":573,"y":0.11},{"s":"Au₇₅Ag₂₅","x":575,"y":0.1},{"s":"Au₇₅Ag₂₅","x":578,"y":0.11},{"s":"Au₇₅Ag₂₅","x":580,"y":0.1},{"s":"Au₇₅Ag₂₅","x":583,"y":0.12},{"s":"Au₇₅Ag₂₅","x":585,"y":0.1},{"s":"Au₇₅Ag₂₅","x":588,"y":0.08},{"s":"Au₇₅Ag₂₅","x":590,"y":0.09},{"s":"Au₇₅Ag₂₅","x":593,"y":0.07},{"s":"Au₇₅Ag₂₅","x":595,"y":0.1},{"s":"Au₇₅Ag₂₅","x":598,"y":0.08},{"s":"Au₇₅Ag₂₅","x":600,"y":0.1},
{"s":"Au₅₀Ag₅₀","x":350,"y":0.6},{"s":"Au₅₀Ag₅₀","x":352,"y":0.61},{"s":"Au₅₀Ag₅₀","x":353,"y":0.59},{"s":"Au₅₀Ag₅₀","x":355,"y":0.61},{"s":"Au₅₀Ag₅₀","x":360,"y":0.62},{"s":"Au₅₀Ag₅₀","x":365,"y":0.63},{"s":"Au₅₀Ag₅₀","x":370,"y":0.655},{"s":"Au₅₀Ag₅₀","x":375,"y":0.68},{"s":"Au₅₀Ag₅₀","x":380,"y":0.71},{"s":"Au₅₀Ag₅₀","x":385,"y":0.74},{"s":"Au₅₀Ag₅₀","x":390,"y":0.78},{"s":"Au₅₀Ag₅₀","x":395,"y":0.82},{"s":"Au₅₀Ag₅₀","x":400,"y":0.86},{"s":"Au₅₀Ag₅₀","x":405,"y":0.9},{"s":"Au₅₀Ag₅₀","x":410,"y":0.93},{"s":"Au₅₀Ag₅₀","x":415,"y":0.96},{"s":"Au₅₀Ag₅₀","x":420,"y":0.98},{"s":"Au₅₀Ag₅₀","x":425,"y":1.0},{"s":"Au₅₀Ag₅₀","x":430,"y":0.99},{"s":"Au₅₀Ag₅₀","x":435,"y":0.98},{"s":"Au₅₀Ag₅₀","x":440,"y":0.95},{"s":"Au₅₀Ag₅₀","x":445,"y":0.91},{"s":"Au₅₀Ag₅₀","x":450,"y":0.87},{"s":"Au₅₀Ag₅₀","x":455,"y":0.84},{"s":"Au₅₀Ag₅₀","x":460,"y":0.81},{"s":"Au₅₀Ag₅₀","x":465,"y":0.77},{"s":"Au₅₀Ag₅₀","x":470,"y":0.74},{"s":"Au₅₀Ag₅₀","x":475,"y":0.72},{"s":"Au₅₀Ag₅₀","x":480,"y":0.7},{"s":"Au₅₀Ag₅₀","x":485,"y":0.66},{"s":"Au₅₀Ag₅₀","x":490,"y":0.63},{"s":"Au₅₀Ag₅₀","x":495,"y":0.61},{"s":"Au₅₀Ag₅₀","x":500,"y":0.58},{"s":"Au₅₀Ag₅₀","x":505,"y":0.56},{"s":"Au₅₀Ag₅₀","x":510,"y":0.53},{"s":"Au₅₀Ag₅₀","x":515,"y":0.5},{"s":"Au₅₀Ag₅₀","x":520,"y":0.47},{"s":"Au₅₀Ag₅₀","x":525,"y":0.45},{"s":"Au₅₀Ag₅₀","x":530,"y":0.43},{"s":"Au₅₀Ag₅₀","x":535,"y":0.41},{"s":"Au₅₀Ag₅₀","x":540,"y":0.39},{"s":"Au₅₀Ag₅₀","x":545,"y":0.37},{"s":"Au₅₀Ag₅₀","x":550,"y":0.34},{"s":"Au₅₀Ag₅₀","x":555,"y":0.32},{"s":"Au₅₀Ag₅₀","x":560,"y":0.3},{"s":"Au₅₀Ag₅₀","x":565,"y":0.28},{"s":"Au₅₀Ag₅₀","x":570,"y":0.26},{"s":"Au₅₀Ag₅₀","x":575,"y":0.24},{"s":"Au₅₀Ag₅₀","x":580,"y":0.23},{"s":"Au₅₀Ag₅₀","x":585,"y":0.22},{"s":"Au₅₀Ag₅₀","x":590,"y":0.2},{"s":"Au₅₀Ag₅₀","x":595,"y":0.18},{"s":"Au₅₀Ag₅₀","x":600,"y":0.16},
{"s":"Au₂₅Ag₇₅","x":350,"y":0.86},{"s":"Au₂₅Ag₇₅","x":351,"y":0.8},{"s":"Au₂₅Ag₇₅","x":352,"y":0.72},{"s":"Au₂₅Ag₇₅","x":353,"y":0.78},{"s":"Au₂₅Ag₇₅","x":355,"y":0.73},{"s":"Au₂₅Ag₇₅","x":356,"y":0.78},{"s":"Au₂₅Ag₇₅","x":358,"y":0.72},{"s":"Au₂₅Ag₇₅","x":360,"y":0.74},{"s":"Au₂₅Ag₇₅","x":362,"y":0.69},{"s":"Au₂₅Ag₇₅","x":364,"y":0.71},{"s":"Au₂₅Ag₇₅","x":366,"y":0.68},{"s":"Au₂₅Ag₇₅","x":368,"y":0.72},{"s":"Au₂₅Ag₇₅","x":370,"y":0.69},{"s":"Au₂₅Ag₇₅","x":372,"y":0.72},{"s":"Au₂₅Ag₇₅","x":375,"y":0.68},{"s":"Au₂₅Ag₇₅","x":378,"y":0.72},{"s":"Au₂₅Ag₇₅","x":380,"y":0.74},{"s":"Au₂₅Ag₇₅","x":383,"y":0.78},{"s":"Au₂₅Ag₇₅","x":385,"y":0.8},{"s":"Au₂₅Ag₇₅","x":388,"y":0.84},{"s":"Au₂₅Ag₇₅","x":390,"y":0.86},{"s":"Au₂₅Ag₇₅","x":393,"y":0.88},{"s":"Au₂₅Ag₇₅","x":395,"y":0.92},{"s":"Au₂₅Ag₇₅","x":398,"y":0.9},{"s":"Au₂₅Ag₇₅","x":400,"y":0.93},{"s":"Au₂₅Ag₇₅","x":403,"y":0.97},{"s":"Au₂₅Ag₇₅","x":405,"y":0.96},{"s":"Au₂₅Ag₇₅","x":408,"y":0.97},{"s":"Au₂₅Ag₇₅","x":410,"y":0.98},{"s":"Au₂₅Ag₇₅","x":413,"y":0.97},{"s":"Au₂₅Ag₇₅","x":415,"y":0.98},{"s":"Au₂₅Ag₇₅","x":418,"y":0.97},{"s":"Au₂₅Ag₇₅","x":420,"y":0.99},{"s":"Au₂₅Ag₇₅","x":423,"y":0.98},{"s":"Au₂₅Ag₇₅","x":425,"y":0.99},{"s":"Au₂₅Ag₇₅","x":428,"y":0.97},{"s":"Au₂₅Ag₇₅","x":430,"y":0.99},{"s":"Au₂₅Ag₇₅","x":433,"y":1.0},{"s":"Au₂₅Ag₇₅","x":435,"y":0.99},{"s":"Au₂₅Ag₇₅","x":438,"y":0.97},{"s":"Au₂₅Ag₇₅","x":440,"y":0.95},{"s":"Au₂₅Ag₇₅","x":443,"y":0.92},{"s":"Au₂₅Ag₇₅","x":445,"y":0.91},{"s":"Au₂₅Ag₇₅","x":448,"y":0.88},{"s":"Au₂₅Ag₇₅","x":450,"y":0.87},{"s":"Au₂₅Ag₇₅","x":453,"y":0.85},{"s":"Au₂₅Ag₇₅","x":455,"y":0.84},{"s":"Au₂₅Ag₇₅","x":458,"y":0.82},{"s":"Au₂₅Ag₇₅","x":460,"y":0.82},{"s":"Au₂₅Ag₇₅","x":462,"y":0.79},{"s":"Au₂₅Ag₇₅","x":465,"y":0.72},{"s":"Au₂₅Ag₇₅","x":468,"y":0.67},{"s":"Au₂₅Ag₇₅","x":470,"y":0.63},{"s":"Au₂₅Ag₇₅","x":472,"y":0.6},{"s":"Au₂₅Ag₇₅","x":475,"y":0.58},{"s":"Au₂₅Ag₇₅","x":478,"y":0.55},{"s":"Au₂₅Ag₇₅","x":480,"y":0.55},{"s":"Au₂₅Ag₇₅","x":483,"y":0.52},{"s":"Au₂₅Ag₇₅","x":485,"y":0.49},{"s":"Au₂₅Ag₇₅","x":488,"y":0.46},{"s":"Au₂₅Ag₇₅","x":490,"y":0.41},{"s":"Au₂₅Ag₇₅","x":493,"y":0.39},{"s":"Au₂₅Ag₇₅","x":495,"y":0.38},{"s":"Au₂₅Ag₇₅","x":498,"y":0.36},{"s":"Au₂₅Ag₇₅","x":500,"y":0.32},{"s":"Au₂₅Ag₇₅","x":503,"y":0.33},{"s":"Au₂₅Ag₇₅","x":505,"y":0.29},{"s":"Au₂₅Ag₇₅","x":508,"y":0.3},{"s":"Au₂₅Ag₇₅","x":510,"y":0.27},{"s":"Au₂₅Ag₇₅","x":513,"y":0.28},{"s":"Au₂₅Ag₇₅","x":515,"y":0.25},{"s":"Au₂₅Ag₇₅","x":518,"y":0.26},{"s":"Au₂₅Ag₇₅","x":520,"y":0.22},{"s":"Au₂₅Ag₇₅","x":523,"y":0.25},{"s":"Au₂₅Ag₇₅","x":525,"y":0.21},{"s":"Au₂₅Ag₇₅","x":528,"y":0.22},{"s":"Au₂₅Ag₇₅","x":530,"y":0.18},{"s":"Au₂₅Ag₇₅","x":533,"y":0.15},{"s":"Au₂₅Ag₇₅","x":535,"y":0.13},{"s":"Au₂₅Ag₇₅","x":538,"y":0.11},{"s":"Au₂₅Ag₇₅","x":540,"y":0.09},{"s":"Au₂₅Ag₇₅","x":543,"y":0.07},{"s":"Au₂₅Ag₇₅","x":545,"y":0.06},{"s":"Au₂₅Ag₇₅","x":548,"y":0.04},{"s":"Au₂₅Ag₇₅","x":550,"y":0.05},{"s":"Au₂₅Ag₇₅","x":553,"y":0.03},{"s":"Au₂₅Ag₇₅","x":555,"y":0.05},{"s":"Au₂₅Ag₇₅","x":558,"y":0.01},{"s":"Au₂₅Ag₇₅","x":560,"y":0.03},{"s":"Au₂₅Ag₇₅","x":563,"y":0.04},{"s":"Au₂₅Ag₇₅","x":565,"y":0.02},{"s":"Au₂₅Ag₇₅","x":568,"y":0.03},{"s":"Au₂₅Ag₇₅","x":570,"y":0.0},{"s":"Au₂₅Ag₇₅","x":572,"y":0.02},{"s":"Au₂₅Ag₇₅","x":575,"y":0.05},{"s":"Au₂₅Ag₇₅","x":578,"y":0.02},{"s":"Au₂₅Ag₇₅","x":580,"y":0.03},{"s":"Au₂₅Ag₇₅","x":583,"y":0.06},{"s":"Au₂₅Ag₇₅","x":585,"y":0.04},{"s":"Au₂₅Ag₇₅","x":588,"y":0.06},{"s":"Au₂₅Ag₇₅","x":590,"y":0.05},{"s":"Au₂₅Ag₇₅","x":593,"y":0.04},{"s":"Au₂₅Ag₇₅","x":595,"y":0.06},{"s":"Au₂₅Ag₇₅","x":598,"y":0.04},{"s":"Au₂₅Ag₇₅","x":600,"y":0.04}
 ]},
 "layer":[
  {"mark":{"type":"line","interpolate":"linear","strokeWidth":1.1},
   "encoding":{
    "x":{"field":"x","type":"quantitative","scale":{"domain":[350,600],"nice":false,"zero":false},"axis":{"orient":"bottom","values":[350,400,450,500,550,600],"format":"d","title":"Wavelength (nm)"}},
    "y":{"field":"y","type":"quantitative","scale":{"domain":[0,1.1],"nice":false},"axis":{"orient":"left","values":[0,0.2,0.4,0.6,0.8,1.0],"format":".1f","title":"Absorbance","titleFontSize":17}},
    "color":{"field":"s","type":"nominal","scale":{"domain":["Au₇₅Ag₂₅","Au₅₀Ag₅₀","Au₂₅Ag₇₅"],"range":["#ff0000","#0000ff","#0f7f7f"]},"legend":{"title":null,"symbolType":"M-2.2,0H2.2","symbolSize":81,"labelOffset":8.5,"offset":10}}
   }},
  {"data":{"values":[{"x":350,"y":0}]},"mark":{"type":"point","opacity":0},"encoding":{"x":{"field":"x","type":"quantitative","axis":{"orient":"top","values":[350,400,450,500,550,600],"tickSize":-4,"labels":false,"domain":false,"title":null}},"y":{"field":"y","type":"quantitative","axis":{"orient":"right","values":[0,0.2,0.4,0.6,0.8,1.0],"tickSize":-4,"labels":false,"domain":false,"title":null}}}},
  {"data":{"values":[{"x":350,"y":0}]},"mark":{"type":"point","opacity":0},"encoding":{"x":{"field":"x","type":"quantitative","axis":{"orient":"bottom","values":[375,425,475,525,575],"tickSize":2,"labels":false,"domain":false,"title":null}},"y":{"field":"y","type":"quantitative","axis":{"orient":"left","values":[0.1,0.3,0.5,0.7,0.9],"tickSize":2,"labels":false,"domain":false,"title":null}}}},
  {"data":{"values":[{"x":350,"y":0}]},"mark":{"type":"point","opacity":0},"encoding":{"x":{"field":"x","type":"quantitative","axis":{"orient":"top","values":[375,425,475,525,575],"tickSize":-2,"labels":false,"domain":false,"title":null}},"y":{"field":"y","type":"quantitative","axis":{"orient":"right","values":[0.1,0.3,0.5,0.7,0.9],"tickSize":-2,"labels":false,"domain":false,"title":null}}}}
 ],
 "resolve":{"axis":{"x":"independent","y":"independent"}}}
],"spacing":50,"resolve":{"scale":{"color":"independent"},"legend":{"color":"independent"}}}
]
}
